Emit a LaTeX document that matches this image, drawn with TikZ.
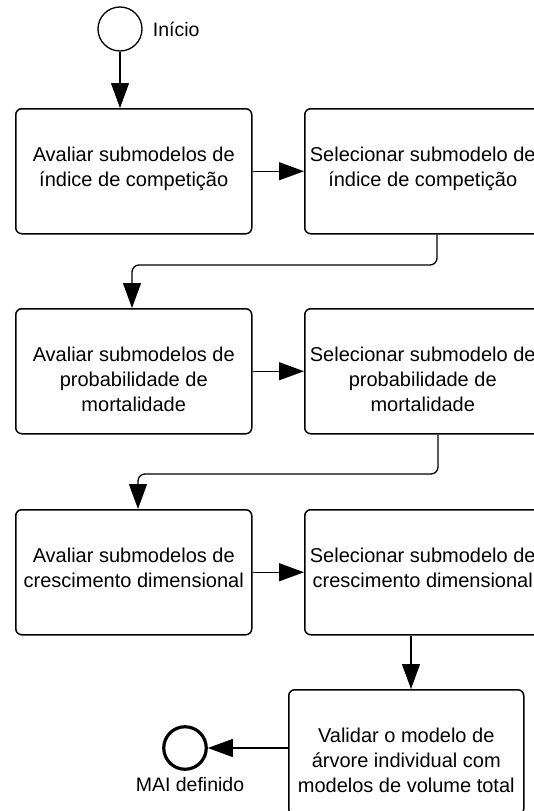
\documentclass[tikz,border=0pt]{standalone}
\usepackage{fontspec}
\setmainfont{Liberation Sans}
\usetikzlibrary{arrows.meta}
\begin{document}
\begin{tikzpicture}[x=1pt,y=-1pt,
  task/.style={draw, line width=1.5pt, rounded corners=6pt, minimum width=236pt,
    minimum height=125pt, inner sep=0pt, anchor=north west},
  tasktext/.style={font=\fontsize{20pt}{25pt}\selectfont, align=center,
    anchor=north, inner sep=0pt},
  lbl/.style={font=\fontsize{19.5pt}{24pt}\selectfont, inner sep=0pt},
  flow/.style={line width=1.3pt, rounded corners=7pt,
    -{Triangle[length=25pt,width=18pt]}},
  startev/.style={draw, circle, line width=1.3pt, minimum size=44pt, inner sep=0pt},
  endev/.style={draw, circle, line width=3.2pt, minimum size=42.5pt, inner sep=0pt},
]
\useasboundingbox (0,0) rectangle (534,811);
\clip (0,0) rectangle (534,811);

% events
\node[startev] (start) at (120,29) {};
\node[lbl, anchor=west] (startlbl) at ([xshift=10pt]start.east) {Início};
\node[endev] (end) at (185,748) {};
\node[lbl, anchor=north] (endlbl) at (190,777) {MAI definido};

% tasks
\node[task] (a1) at (15,108) {};
\node[task] (s1) at (304,108) {};
\node[task] (a2) at (15,308) {};
\node[task] (s2) at (304,308) {};
\node[task] (a3) at (15,509) {};
\node[task] (s3) at (304,509) {};
\node[task, minimum width=235pt] (v) at (288,689) {};

% task captions, hung from the top edge of each task
\node[tasktext] (a1t) at ([yshift=-38.5pt]a1.north) {Avaliar submodelos de\\índice de competição};
\node[tasktext] (s1t) at ([yshift=-38.5pt]s1.north) {Selecionar submodelo de\\índice de competição};
\node[tasktext] (a2t) at ([yshift=-38.5pt]a2.north) {Avaliar submodelos de\\probabilidade de\\mortalidade};
\node[tasktext] (s2t) at ([yshift=-38.5pt]s2.north) {Selecionar submodelo de\\probabilidade de\\mortalidade};
\node[tasktext] (a3t) at ([yshift=-38.5pt]a3.north) {Avaliar submodelos de\\crescimento dimensional};
\node[tasktext] (s3t) at ([yshift=-38.5pt]s3.north) {Selecionar submodelo de\\crescimento dimensional};
\node[tasktext] (vt) at ([yshift=-38.5pt]v.north) {Validar o modelo de\\árvore individual com\\modelos de volume total};

% sequence flows
\coordinate (k1) at (437,265);
\coordinate (k2) at (438,474);
\coordinate (k3) at (411,0);
\coordinate (ke) at (0,748);
\coordinate (c2) at (132,0);
\coordinate (c3) at (138,0);

\draw[flow] (start.south) -- (start.south |- a1.north);
\draw[flow] (a1.east) -- (s1.west);
\draw[flow] (k1 |- s1.south) -- (k1) -- (c2 |- k1) -- (c2 |- a2.north);
\draw[flow] (a2.east) -- (s2.west);
\draw[flow] (k2 |- s2.south) -- (k2) -- (c3 |- k2) -- (c3 |- a3.north);
\draw[flow] (a3.east) -- (s3.west);
\draw[flow] (k3 |- s3.south) -- (k3 |- v.north);
\draw[flow] (v.west |- ke) -- (end.east);
\end{tikzpicture}
\end{document}
